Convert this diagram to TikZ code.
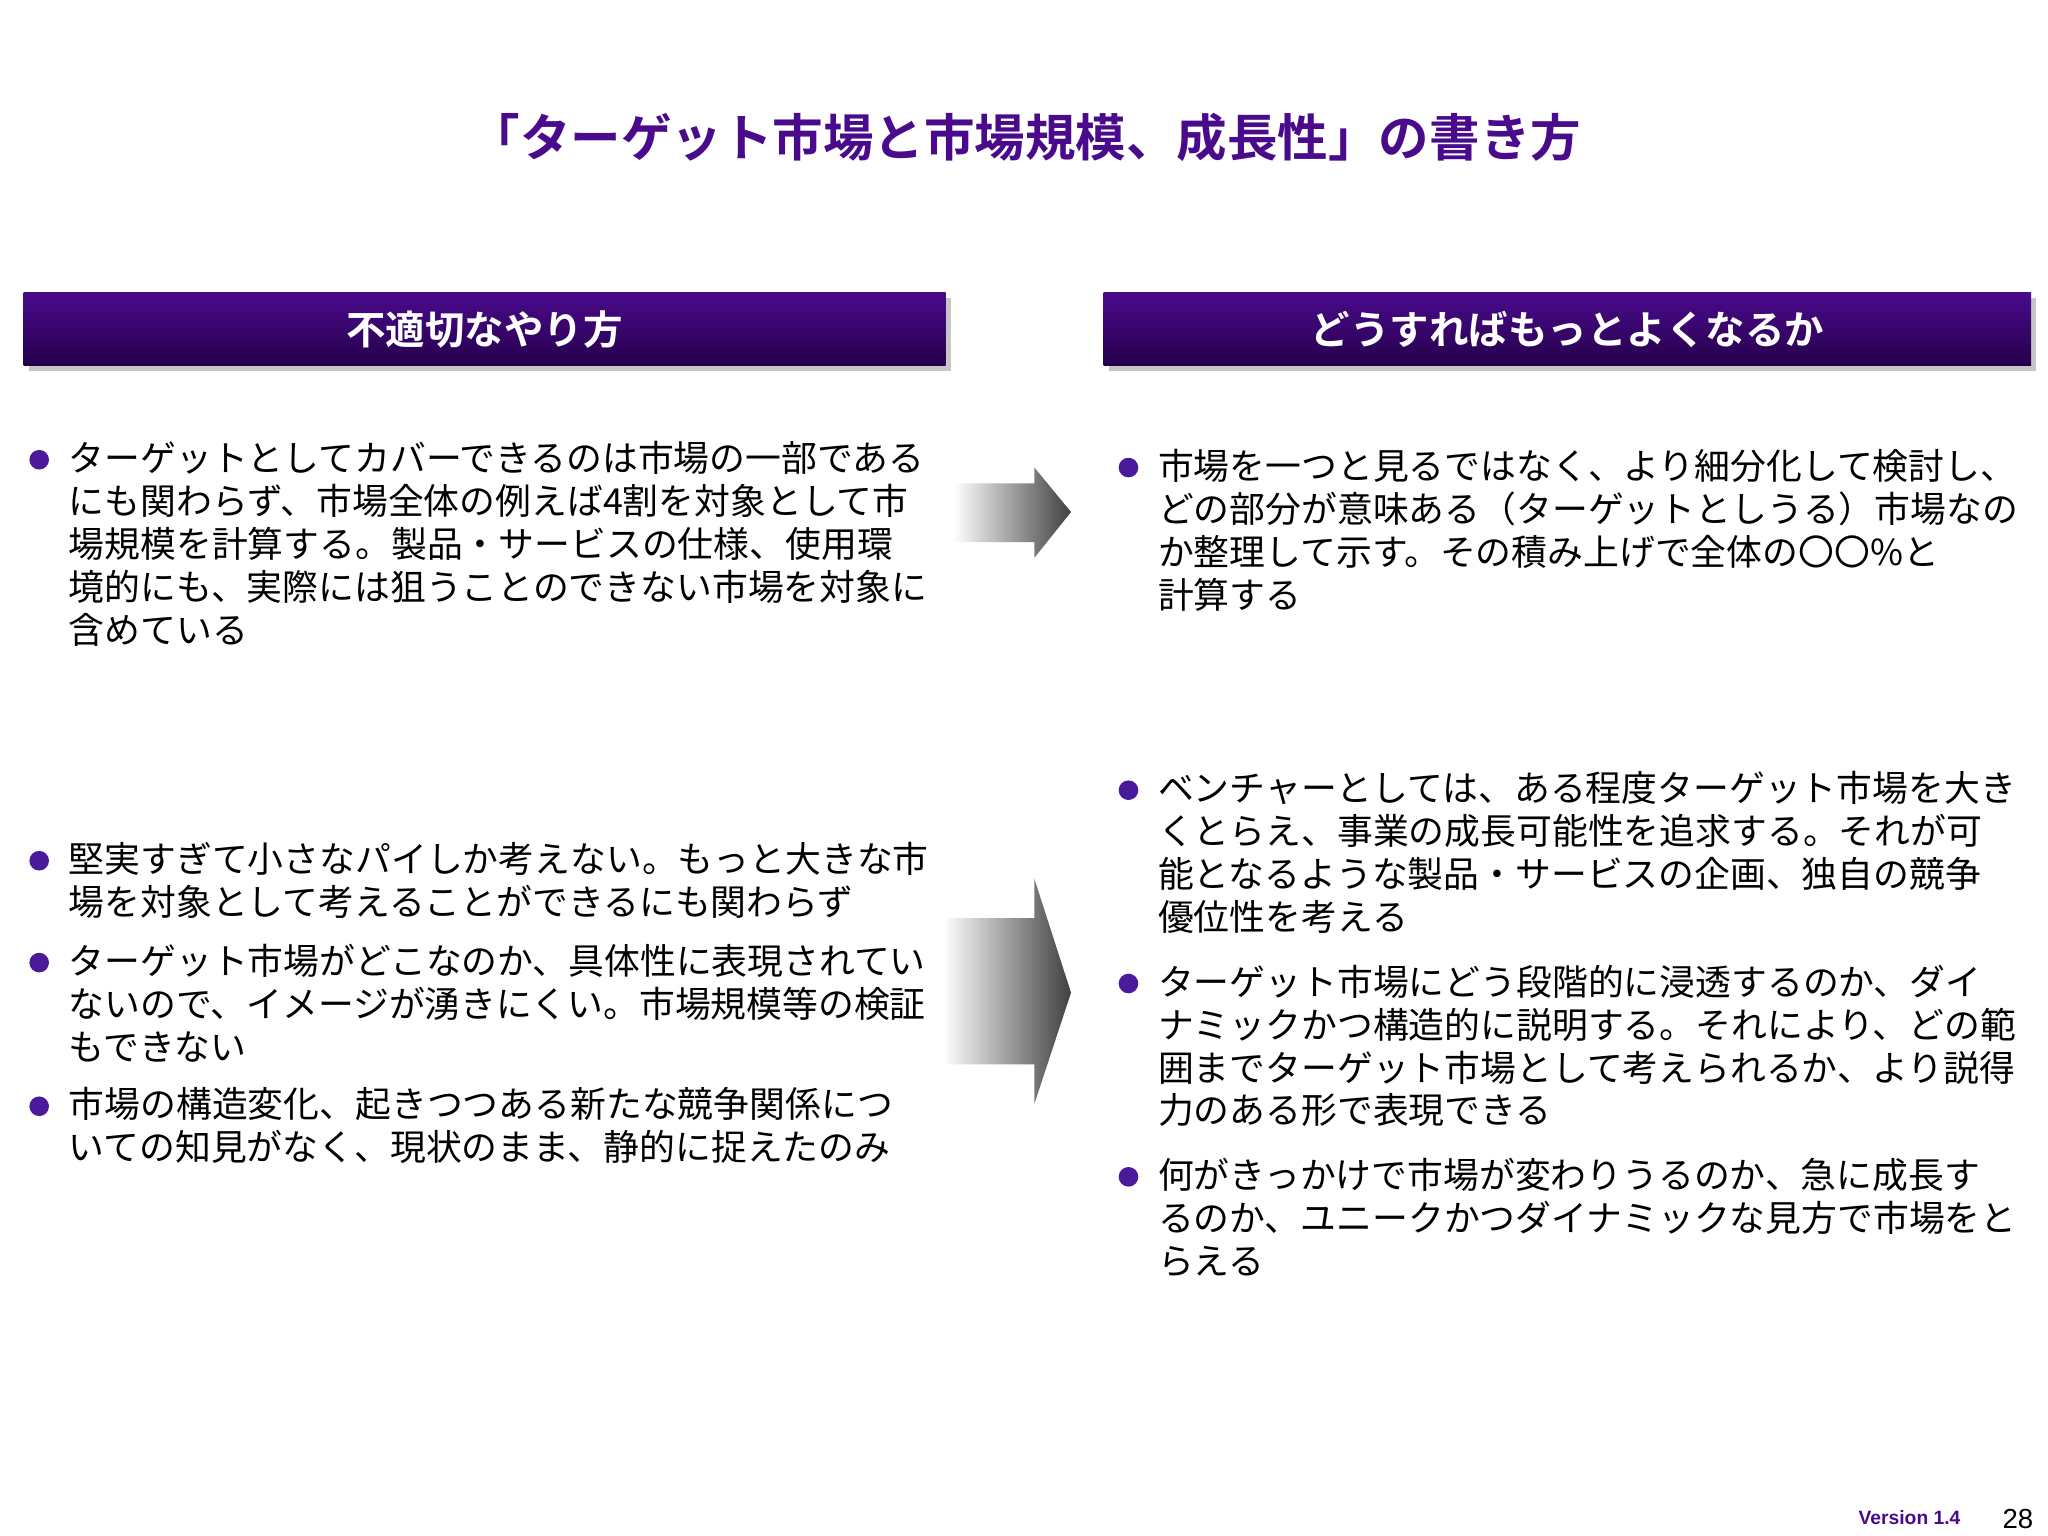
\documentclass[tikz,border=0pt]{standalone}
\usepackage{fontspec}
\setmainfont{Noto Sans CJK JP}
\newfontfamily\jpb{Noto Sans CJK JP Bold}
\newfontfamily\arb{Liberation Sans}
\usetikzlibrary{shadings}
\definecolor{pur}{HTML}{4A0A8C}
\definecolor{purd}{HTML}{25004A}
\definecolor{bul}{HTML}{4B1A9A}
\begin{document}
\begin{tikzpicture}[x=0.01cm,y=-0.01cm,
  body/.style={anchor=north west,inner sep=0pt,align=left,font=\fontsize{7.8pt}{9.35pt}\selectfont},
  hdr/.style={text=white,font=\jpb\fontsize{8.6pt}{10pt}\selectfont}]
\useasboundingbox (0,0) rectangle (1568,1176);
\fill[white] (0,0) rectangle (1568,1176);
\node[text=pur,font=\jpb\fontsize{11pt}{13pt}\selectfont] (title) at (785,105) {「ターゲット市場と市場規模、成長性」の書き方};
% headers
\fill[gray!45] (22,228) rectangle (728,284);
\fill[gray!45] (849,228) rectangle (1559,284);
\shade[top color=pur,bottom color=purd] (18,224) rectangle (724,280);
\shade[top color=pur,bottom color=purd] (845,224) rectangle (1555,280);
\node[hdr] (h1) at (371,252) {不適切なやり方};
\node[hdr] (h2) at (1200,252) {どうすればもっとよくなるか};
% arrows
\shade[left color=white,right color=black!75] (730,370) -- (792,370) -- (792,358) -- (820,392) -- (792,427) -- (792,415) -- (730,415) -- cycle;
\shade[left color=white,right color=black!75] (722,703) -- (792,703) -- (792,673) -- (820,760) -- (792,845) -- (792,815) -- (722,815) -- cycle;
% bullets
\foreach \x/\y in {30/352,30/659,30/737,30/847,864/358,864/605,864/753,864/901}
  \fill[bul] (\x,\y) circle[radius=0.075cm];
\node[body] (l1) at (52,337) {ターゲットとしてカバーできるのは市場の一部である\\にも関わらず、市場全体の例えば4割を対象として市\\場規模を計算する。製品・サービスの仕様、使用環\\境的にも、実際には狙うことのできない市場を対象に\\含めている};
\node[body] (l2) at (52,644) {堅実すぎて小さなパイしか考えない。もっと大きな市\\場を対象として考えることができるにも関わらず};
\node[body] (l3) at (52,722) {ターゲット市場がどこなのか、具体性に表現されてい\\ないので、イメージが湧きにくい。市場規模等の検証\\もできない};
\node[body] (l4) at (52,832) {市場の構造変化、起きつつある新たな競争関係につ\\いての知見がなく、現状のまま、静的に捉えたのみ};
\node[body] (r1) at (886,343) {市場を一つと見るではなく、より細分化して検討し、\\どの部分が意味ある（ターゲットとしうる）市場なの\\か整理して示す。その積み上げで全体の〇〇\%と\\計算する};
\node[body] (r2) at (886,590) {ベンチャーとしては、ある程度ターゲット市場を大き\\くとらえ、事業の成長可能性を追求する。それが可\\能となるような製品・サービスの企画、独自の競争\\優位性を考える};
\node[body] (r3) at (886,738) {ターゲット市場にどう段階的に浸透するのか、ダイ\\ナミックかつ構造的に説明する。それにより、どの範\\囲までターゲット市場として考えられるか、より説得\\力のある形で表現できる};
\node[body] (r4) at (886,886) {何がきっかけで市場が変わりうるのか、急に成長す\\るのか、ユニークかつダイナミックな見方で市場をと\\らえる};
% footer
\node[text=pur,font=\arb\bfseries\fontsize{4.2pt}{5pt}\selectfont] (ver) at (1462,1162) {Version 1.4};
\node[font=\arb\fontsize{6pt}{7pt}\selectfont] (pg) at (1545,1163) {28};
\end{tikzpicture}
\end{document}
